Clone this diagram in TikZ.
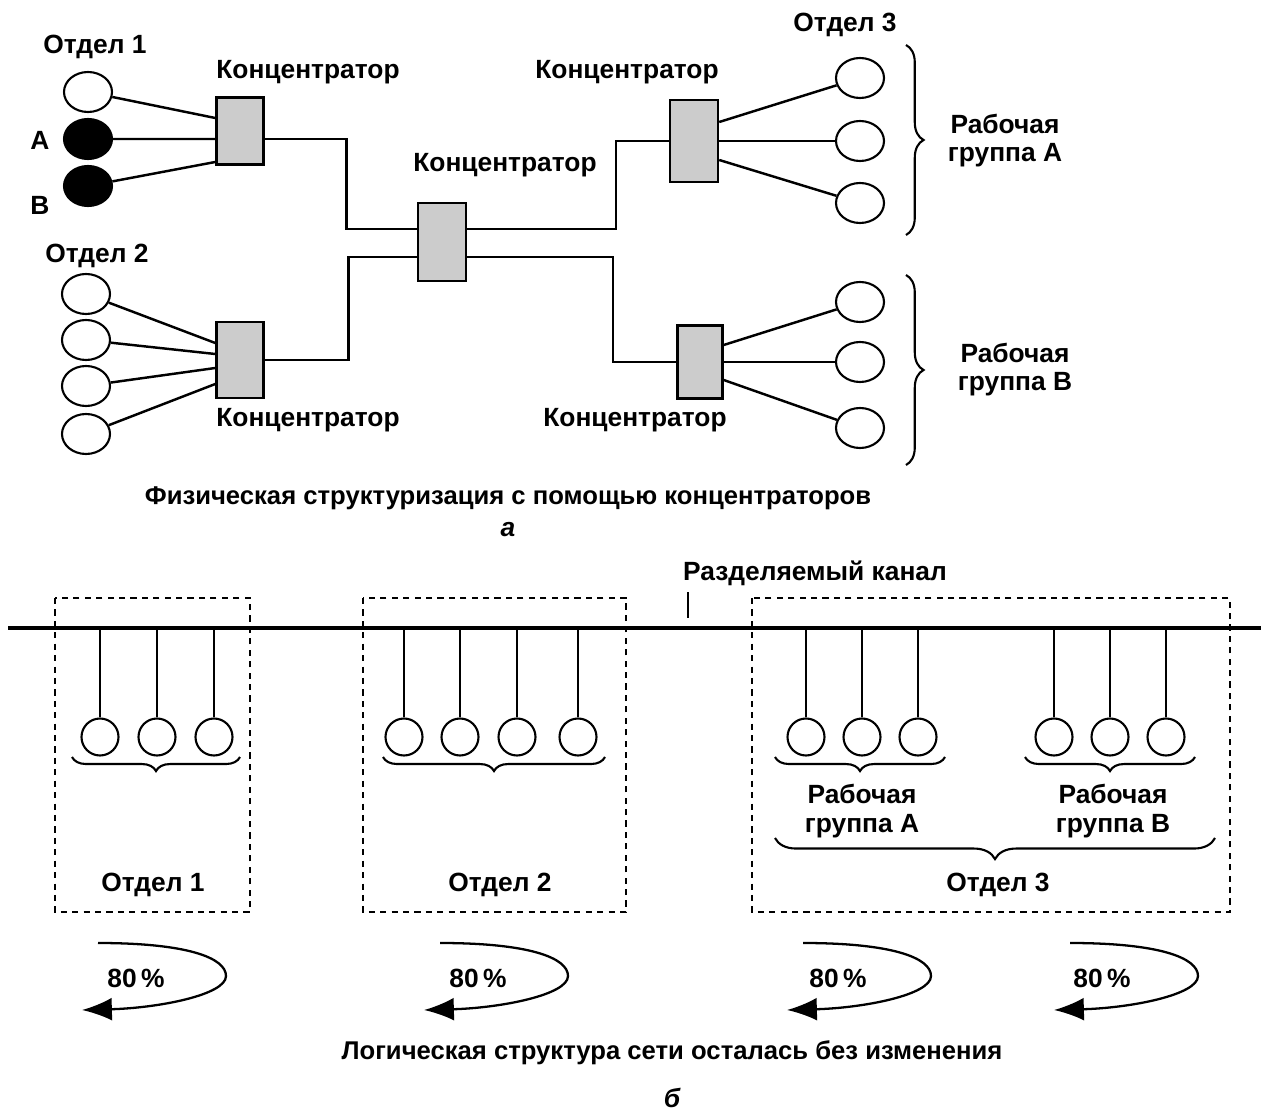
\documentclass[tikz,border=0pt]{standalone}
\usepackage{fontspec}
\setmainfont{Liberation Sans}
\usetikzlibrary{shapes.geometric,decorations.pathreplacing,arrows.meta}

\tikzset{
  pc/.style={draw, ellipse, line width=1.2pt, minimum width=0.96cm, minimum height=0.8cm, inner sep=0pt},
  pcdark/.style={pc, fill=black},
  hub/.style={draw, rectangle, line width=1.4pt, fill=gray!40, minimum width=0.94cm, inner sep=0pt},
  station/.style={draw, circle, line width=1.2pt, minimum size=0.74cm, inner sep=0pt},
  lbl/.style={font=\fontsize{15}{16}\selectfont\bfseries, align=center, inner sep=1pt},
  caption/.style={lbl, font=\fontsize{14.6}{16}\selectfont\bfseries},
  wire/.style={line width=1.4pt},
  grp/.style={decorate, decoration={brace, amplitude=#1}, line width=1.2pt},
  deptbox/.style={dash pattern=on 3.5pt off 3pt, line width=1.1pt},
  selfarrow/.style={line width=1.3pt, -{Latex[length=17pt,width=13pt]}},
}

\begin{document}
\begin{tikzpicture}[x=0.02cm, y=-0.02cm]
    \useasboundingbox (0,0) rectangle (1261,1111);

    % Part a: stations of department 1
    \node[lbl] (d1) at (95,47) {Отдел 1};
    \node[pc] (c11) at (88,92) {};
    \node[pcdark] (c12) at (88,139) {};
    \node[pcdark] (c13) at (88,186) {};
    \node[lbl] (la) at (40,140) {A};
    \node[lbl] (lb) at (40,205) {B};

    % Stations of department 2
    \node[lbl] (d2) at (97,256) {Отдел 2};
    \node[pc] (c21) at (86,294) {};
    \node[pc] (c22) at (86,340) {};
    \node[pc] (c23) at (86,386) {};
    \node[pc] (c24) at (86,434) {};

    % Stations of department 3
    \node[lbl] (d3) at (845,25) {Отдел 3};
    \node[pc] (c31) at (860,78) {};
    \node[pc] (c32) at (860,141) {};
    \node[pc] (c33) at (860,203) {};
    \node[pc] (c41) at (860,302) {};
    \node[pc] (c42) at (860,362) {};
    \node[pc] (c43) at (860,428) {};

    % Hubs and their labels
    \node[hub, minimum height=1.34cm] (hub1) at (240,131) {};
    \node[hub, minimum height=1.52cm] (hub2) at (240,360) {};
    \node[hub, minimum width=0.96cm, minimum height=1.56cm] (hubc) at (442,242) {};
    \node[hub, minimum width=0.96cm, minimum height=1.64cm] (hub3) at (694,141) {};
    \node[hub, minimum width=0.9cm, minimum height=1.46cm] (hub4) at (700,362) {};
    \node[lbl] (h1l) at (308,72) {Концентратор};
    \node[lbl] (h2l) at (308,420) {Концентратор};
    \node[lbl] (hcl) at (505,165) {Концентратор};
    \node[lbl] (h3l) at (627,72) {Концентратор};
    \node[lbl] (h4l) at (635,420) {Концентратор};

    % Links from stations to hubs
    \draw[wire] (c11) -- ([yshift=0.26cm]hub1.west);
    \draw[wire] (c12) -- ([yshift=-0.16cm]hub1.west);
    \draw[wire] (c13) -- ([yshift=-0.62cm]hub1.west);
    \draw[wire] (c21) -- ([yshift=0.34cm]hub2.west);
    \draw[wire] (c22) -- ([yshift=0.12cm]hub2.west);
    \draw[wire] (c23) -- ([yshift=-0.16cm]hub2.west);
    \draw[wire] (c24) -- ([yshift=-0.48cm]hub2.west);
    \draw[wire] ([yshift=0.38cm]hub3.east) -- (c31);
    \draw[wire] (hub3.east) -- (c32);
    \draw[wire] ([yshift=-0.38cm]hub3.east) -- (c33);
    \draw[wire] ([yshift=0.34cm]hub4.east) -- (c41);
    \draw[wire] (hub4.east) -- (c42);
    \draw[wire] ([yshift=-0.36cm]hub4.east) -- (c43);

    % Links between hubs
    \draw[wire] ([yshift=-0.16cm]hub1.east) -- ++(82,0) |- ([yshift=0.26cm]hubc.west);
    \draw[wire] (hub2.east) -- ++(84,0) |- ([yshift=-0.3cm]hubc.west);
    \draw[wire] ([yshift=0.26cm]hubc.east) -- ++(149,0) |- (hub3.west);
    \draw[wire] ([yshift=-0.3cm]hubc.east) -- ++(146,0) |- (hub4.west);

    % Work groups
    \draw[grp=10pt] (906,45) -- (906,235);
    \draw[grp=10pt] (906,275) -- (906,465);
    \node[lbl] (wga) at (1005,141) {Рабочая\\группа А};
    \node[lbl] (wgb) at (1015,370) {Рабочая\\группа В};

    % Caption a
    \node[caption] (capa) at (508,498) {Физическая структуризация с помощью концентраторов};
    \node[lbl, font=\fontsize{15}{16}\selectfont\bfseries\itshape] (la) at (508,530) {а};

    % Part b: shared channel
    \coordinate (busl) at (8,628);
    \coordinate (busr) at (1261,628);
    \draw[line width=2pt] (busl) -- (busr);
    \node[lbl] (chan) at (815,573) {Разделяемый канал};
    \draw[line width=1.2pt] (688,592) -- (688,618);

    % Stations on the channel
    \foreach \x [count=\i] in {100,157,214,404,460,517,578,806,862,918,1054,1110,1166} {
        \coordinate (b\i) at (\x,628);
        \node[station] (s\i) at (\x,737) {};
        \draw[line width=1.3pt] (b\i) -- (s\i);
    }

    % Departments
    \draw[deptbox] (55,598) rectangle (250,912);
    \draw[deptbox] (363,598) rectangle (626,912);
    \draw[deptbox] (752,598) rectangle (1230,912);
    \draw[grp=8pt] (240,757) -- (72,757);
    \draw[grp=8pt] (605,757) -- (383,757);
    \draw[grp=8pt] (945,757) -- (775,757);
    \draw[grp=8pt] (1195,757) -- (1025,757);
    \draw[grp=12pt] (1215,838) -- (775,838);
    \node[lbl] (wga2) at (862,811) {Рабочая\\[1pt]группа А};
    \node[lbl] (wgb2) at (1113,811) {Рабочая\\[1pt]группа В};
    \node[lbl] (e1) at (153,885) {Отдел 1};
    \node[lbl] (e2) at (500,885) {Отдел 2};
    \node[lbl] (e3) at (998,885) {Отдел 3};

    % Local traffic arrows
    \draw[selfarrow] (98,943) .. controls (188,943) and (226,958) .. (226,976) .. controls (226,995) and (158,1008) .. (82,1010);
    \draw[selfarrow] (440,943) .. controls (530,943) and (568,958) .. (568,976) .. controls (568,995) and (500,1008) .. (424,1010);
    \draw[selfarrow] (803,943) .. controls (893,943) and (931,958) .. (931,976) .. controls (931,995) and (863,1008) .. (787,1010);
    \draw[selfarrow] (1070,943) .. controls (1160,943) and (1198,958) .. (1198,976) .. controls (1198,995) and (1130,1008) .. (1054,1010);
    \node[lbl] (p1) at (136,978) {80\,\%};
    \node[lbl] (p2) at (478,978) {80\,\%};
    \node[lbl] (p3) at (838,978) {80\,\%};
    \node[lbl] (p4) at (1102,978) {80\,\%};

    % Caption b
    \node[caption] (capb) at (672,1053) {Логическая структура сети осталась без изменения};
    \node[lbl, font=\fontsize{15}{16}\selectfont\bfseries\itshape] (lbb) at (672,1098) {б};
\end{tikzpicture}
\end{document}
